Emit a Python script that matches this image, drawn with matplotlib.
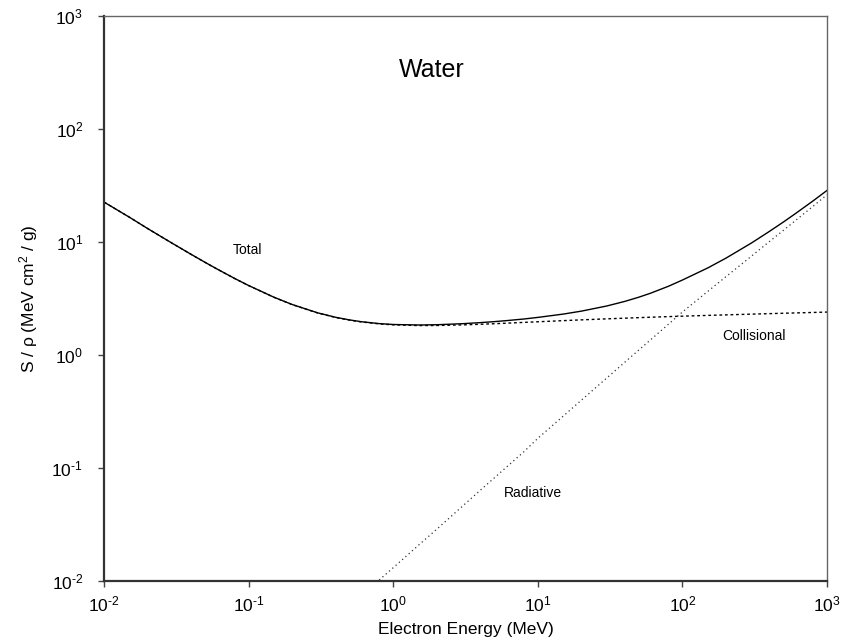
import matplotlib
matplotlib.use("Agg")
import matplotlib.pyplot as plt
from matplotlib.ticker import LogLocator, NullLocator, FuncFormatter
import math

plt.rcParams['font.family'] = ['Liberation Sans', 'DejaVu Sans']
plt.rcParams['mathtext.fontset'] = 'custom'
plt.rcParams['mathtext.rm'] = 'Liberation Sans'
plt.rcParams['mathtext.it'] = 'Liberation Sans:italic'
plt.rcParams['mathtext.bf'] = 'Liberation Sans:bold'

# Electron energy (MeV)
energy = [0.01, 0.015, 0.02, 0.03, 0.04, 0.05, 0.06, 0.08, 0.1, 0.15, 0.2, 0.3,
          0.4, 0.5, 0.6, 0.8, 1, 1.5, 2, 3, 4, 5, 6, 8, 10, 15, 20, 30, 40, 50,
          60, 80, 100, 150, 200, 300, 400, 500, 600, 800, 1000]
# Collisional stopping power (MeV cm2/g)
collisional = [22.56, 16.56, 13.17, 9.653, 7.777, 6.603, 5.797, 4.757, 4.115,
               3.238, 2.793, 2.355, 2.148, 2.034, 1.963, 1.886, 1.849, 1.822,
               1.824, 1.846, 1.870, 1.892, 1.911, 1.943, 1.968, 2.014, 2.046,
               2.089, 2.118, 2.141, 2.159, 2.186, 2.206, 2.241, 2.265, 2.299,
               2.323, 2.341, 2.356, 2.379, 2.398]
# Total stopping power (MeV cm2/g)
total = [22.56, 16.56, 13.17, 9.657, 7.781, 6.607, 5.802, 4.761, 4.120, 3.243,
         2.799, 2.362, 2.156, 2.043, 1.972, 1.896, 1.862, 1.843, 1.853, 1.892,
         1.934, 1.974, 2.012, 2.082, 2.151, 2.302, 2.444, 2.715, 2.982, 3.249,
         3.516, 4.056, 4.606, 5.90, 7.195, 9.79, 12.42, 15.04, 17.71, 23.08, 28.6]
# Radiative stopping power (visible part, MeV cm2/g)
energy_rad = [0.8, 1, 1.5, 2, 3, 4, 5, 6, 8, 10, 15, 20, 30, 40, 50, 60, 80,
              100, 150, 200, 300, 400, 500, 600, 800, 1000]
radiative = [0.0102, 0.0131, 0.0208, 0.0287, 0.0457, 0.0635, 0.0817, 0.1005,
             0.139, 0.183, 0.288, 0.398, 0.626, 0.864, 1.108, 1.357, 1.87,
             2.40, 3.66, 4.93, 7.49, 10.1, 12.7, 15.35, 20.7, 26.2]

fig = plt.figure(figsize=(8.42, 6.42), dpi=100)
ax = fig.add_axes([104/842, 1-581/642, (827-104)/842, (581-16)/642])

ax.plot(energy, collisional, color='black', lw=1.0, linestyle=(0, (2, 2)))
ax.plot(energy_rad, radiative, color='#333333', lw=0.9, linestyle=(0, (1, 2.5)))
ax.plot(energy, total, color='black', lw=1.0)

ax.set_xscale('log')
ax.set_yscale('log')
ax.set_xlim(1e-2, 1e3)
ax.set_ylim(1e-2, 1e3)
ax.xaxis.set_major_locator(LogLocator(base=10, numticks=10))
ax.yaxis.set_major_locator(LogLocator(base=10, numticks=10))
ax.xaxis.set_minor_locator(NullLocator())
ax.yaxis.set_minor_locator(NullLocator())


def pow_fmt(v, pos):
    e = int(round(math.log10(v)))
    s = str(e).replace('-', '\u2010')
    return '10$^{' + s + '}$'


ax.xaxis.set_major_formatter(FuncFormatter(pow_fmt))
ax.yaxis.set_major_formatter(FuncFormatter(pow_fmt))

ax.tick_params(axis='both', which='major', direction='out', length=4, width=1,
               color='#444444', labelsize=12.5, top=False, right=False)
ax.tick_params(axis='y', pad=11)
ax.tick_params(axis='x', pad=6)
for side in ['left', 'bottom']:
    ax.spines[side].set_linewidth(1.6)
    ax.spines[side].set_color('#333333')
for side in ['top', 'right']:
    ax.spines[side].set_linewidth(1.0)
    ax.spines[side].set_color('#666666')

ax.set_xlabel('Electron Energy (MeV)', fontsize=12.5, labelpad=5)
ax.set_ylabel(r'S / ρ (MeV cm$^{2}$ / g)', fontsize=12.5, labelpad=8)

ax.text(1.85, 333, 'Water', fontsize=18, ha='center', va='center')
ax.text(0.0975, 8.5, 'Total', fontsize=10, ha='center', va='center')
ax.text(313, 1.47, 'Collisional', fontsize=10, ha='center', va='center')
ax.text(9.27, 0.060, 'Radiative', fontsize=10, ha='center', va='center')

fig.savefig('out.png', dpi=100)
